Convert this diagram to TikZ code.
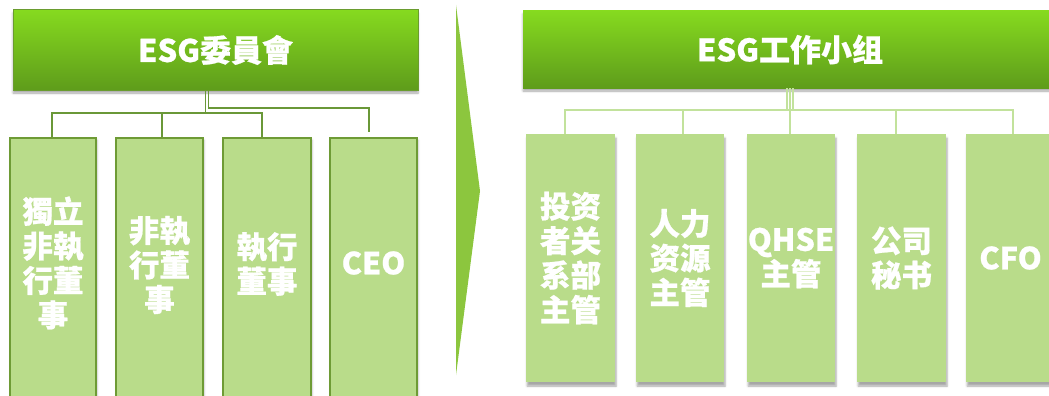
\documentclass[tikz,border=0pt]{standalone}
\usepackage{fontspec}
\setmainfont{Noto Sans CJK SC}[BoldFeatures={FakeBold=0.7}]
\newfontfamily\tcfont{Noto Sans CJK TC}[BoldFeatures={FakeBold=0.7}]
\usetikzlibrary{shadows.blur}
\definecolor{titletop}{HTML}{86DA1F}
\definecolor{titlebot}{HTML}{5E9C1B}
\definecolor{titleline}{HTML}{6A9C2F}
\definecolor{childfill}{HTML}{B9DC8A}
\definecolor{childline}{HTML}{6E9B35}
\definecolor{lconncol}{HTML}{6A9838}
\definecolor{rconncol}{HTML}{C2E29C}
\definecolor{arrowgreen}{HTML}{8CC63E}
\tikzset{
  titlebox/.style={rectangle, top color=titletop, bottom color=titlebot, text=white,
    font=\bfseries\fontsize{31}{34}\selectfont, inner sep=0pt,
    blur shadow={shadow xshift=0pt, shadow yshift=-3pt, shadow blur steps=6, shadow opacity=35}},
  lchild/.style={rectangle, fill=childfill, draw=childline, line width=1.3pt, inner sep=0pt,
    blur shadow={shadow xshift=1pt, shadow yshift=-2pt, shadow blur steps=4, shadow opacity=25}},
  rchild/.style={rectangle, fill=childfill, inner sep=0pt, text=white, align=center,
    font=\bfseries\fontsize{30.5}{34.5}\selectfont,
    blur shadow={shadow xshift=1pt, shadow yshift=-4pt, shadow blur steps=5, shadow opacity=35}},
  ltext/.style={text=white, align=center, inner sep=0pt,
    font=\tcfont\bfseries\fontsize{30.5}{34.5}\selectfont},
  lconn/.style={draw=lconncol, line width=1.3pt},
  rconn/.style={draw=rconncol, line width=1.2pt},
}
\begin{document}
\begin{tikzpicture}[x=1pt,y=-1pt]
\useasboundingbox (0,0) rectangle (1049,396);

% separator arrow
\fill[arrowgreen] (456,5) -- (480,191) -- (456,375) -- cycle;

% ---------- left: committee ----------
\node[titlebox, draw=titleline, line width=1pt, minimum width=405pt, minimum height=80pt,
  font=\tcfont\bfseries\fontsize{31}{34}\selectfont] (L) at (215.5,50) {ESG委員會};

\node[lchild, minimum width=86pt, minimum height=270pt] (c1) at (53,273) {};
\node[lchild, minimum width=87pt, minimum height=270pt] (c2) at (159.5,273) {};
\node[lchild, minimum width=88pt, minimum height=270pt] (c3) at (267,273) {};
\node[lchild, minimum width=87pt, minimum height=270pt] (c4) at (373.5,273) {};

\node[ltext] (t1) at (53,263) {獨立\\非執\\行董\\事};
\node[ltext] (t2) at (159.5,265) {非執\\行董\\事};
\node[ltext] (t3) at (267,264) {執行\\董事};
\node[ltext] (t4) at (373.5,263) {CEO};

\draw[lconn] ([xshift=-10pt]L.south) -- ([xshift=-10pt]L.south |- 0,113);
\draw[lconn] ([xshift=-1pt]c1.north) |- ([xshift=-5pt]c3.north |- 0,113) -- ([xshift=-5pt]c3.north);
\draw[lconn] ([xshift=2.5pt]c2.north) -- ([xshift=2.5pt]c2.north |- 0,113);
\draw[lconn] ([xshift=-7pt]L.south) |- ([xshift=-4.5pt]c4.north |- 0,108) -- ([xshift=-4.5pt,yshift=5pt]c4.north);

% ---------- right: working group ----------
\node[titlebox, minimum width=534pt, minimum height=77pt] (R) at (790,49.5) {ESG工作小组};

\node[rchild, minimum width=89pt, minimum height=248pt] (d1) at (570.5,258) {投资\\者关\\系部\\主管};
\node[rchild, minimum width=88pt, minimum height=248pt] (d2) at (680,258) {人力\\资源\\主管};
\node[rchild, minimum width=88pt, minimum height=248pt] (d3) at (791,258) {QHSE\\主管};
\node[rchild, minimum width=89pt, minimum height=248pt] (d4) at (901.5,258) {公司\\秘书};
\node[rchild, minimum width=89pt, minimum height=248pt] (d5) at (1010.5,258) {CFO};

\draw[rconn] ([xshift=-3pt]R.south) -- ([xshift=-3pt]R.south |- 0,110);
\draw[rconn] (R.south) -- (R.south |- 0,110);
\draw[rconn] ([xshift=3pt]R.south) -- ([xshift=3pt]R.south |- 0,110);
\draw[rconn] ([xshift=-5.5pt]d1.north) |- ([xshift=2.5pt]d5.north |- 0,110) -- ([xshift=2.5pt]d5.north);
\draw[rconn] ([xshift=3pt]d2.north) -- ([xshift=3pt]d2.north |- 0,110);
\draw[rconn] ([xshift=-1pt]d3.north) -- ([xshift=-1pt]d3.north |- 0,110);
\draw[rconn] ([xshift=-5.5pt]d4.north) -- ([xshift=-5.5pt]d4.north |- 0,110);
\end{tikzpicture}
\end{document}
